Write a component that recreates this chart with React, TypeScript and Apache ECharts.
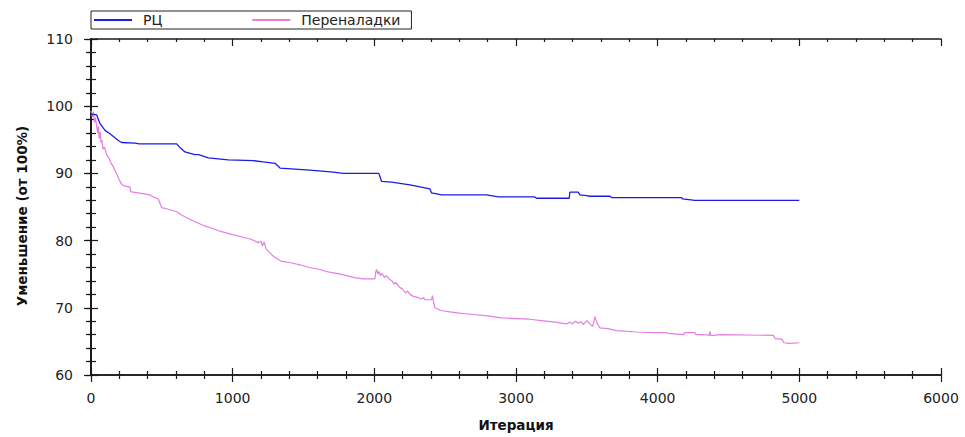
import React, { useEffect, useRef } from "react";
import * as echarts from "echarts";

const seriesNames = ["РЦ", "Переналадки"];
const xTitle = "Итерация";
const yTitle = "Уменьшение (от 100%)";

// РЦ
const rcIter = [0, 5, 40, 64, 99, 134, 193, 216, 310, 340, 605, 630, 663, 734, 760, 828, 969, 1146, 1216, 1300, 1334, 1545, 1710, 1781, 2032, 2051, 2122, 2251, 2392, 2404, 2475, 2792, 2875, 3133, 3145, 3376, 3380, 3439, 3451, 3498, 3521, 3663, 3675, 4169, 4175, 4263, 5000];
const rcValue = [99.0, 98.8, 98.7, 97.4, 96.4, 95.9, 94.9, 94.6, 94.5, 94.4, 94.4, 93.8, 93.2, 92.8, 92.8, 92.3, 92.0, 91.9, 91.7, 91.5, 90.8, 90.5, 90.2, 90.0, 90.0, 88.8, 88.7, 88.3, 87.7, 87.1, 86.8, 86.8, 86.5, 86.5, 86.3, 86.3, 87.2, 87.2, 86.8, 86.7, 86.6, 86.6, 86.4, 86.4, 86.2, 86.0, 86.0];

// Переналадки
const chgIter = [0, 10, 16, 25, 32, 40, 48, 52, 58, 64, 70, 76, 85, 95, 110, 125, 140, 157, 180, 200, 216, 240, 275, 280, 300, 416, 440, 475, 499, 540, 605, 640, 675, 746, 800, 860, 910, 1000, 1075, 1130, 1180, 1200, 1210, 1222, 1235, 1275, 1300, 1346, 1410, 1475, 1540, 1616, 1660, 1710, 1760, 1804, 1860, 1922, 2004, 2010, 2016, 2025, 2034, 2042, 2055, 2070, 2085, 2110, 2125, 2140, 2150, 2181, 2200, 2220, 2235, 2251, 2275, 2300, 2330, 2345, 2360, 2404, 2410, 2420, 2428, 2470, 2534, 2600, 2698, 2800, 2898, 3000, 3098, 3180, 3263, 3357, 3380, 3395, 3420, 3440, 3460, 3475, 3500, 3520, 3540, 3548, 3557, 3565, 3575, 3592, 3650, 3710, 3851, 3960, 4063, 4075, 4181, 4190, 4263, 4270, 4333, 4365, 4369, 4375, 4393, 4439, 4816, 4830, 4880, 4891, 4928, 5000];
const chgValue = [99.3, 98.4, 99.2, 97.6, 98.3, 97.0, 96.0, 97.0, 95.2, 96.2, 94.6, 95.0, 93.6, 93.9, 92.8, 92.4, 91.6, 91.0, 90.0, 89.0, 88.4, 88.1, 88.0, 87.3, 87.2, 86.8, 86.5, 86.2, 84.9, 84.7, 84.3, 83.8, 83.4, 82.7, 82.2, 81.8, 81.4, 80.9, 80.5, 80.2, 79.7, 79.9, 79.2, 79.8, 78.8, 77.9, 77.5, 76.9, 76.7, 76.4, 76.0, 75.7, 75.4, 75.2, 75.0, 74.8, 74.5, 74.3, 74.3, 75.3, 75.7, 75.0, 75.4, 74.8, 75.1, 74.5, 74.8, 74.2, 74.0, 73.5, 73.8, 73.0, 72.8, 72.2, 72.5, 72.0, 71.7, 71.6, 71.3, 71.5, 71.2, 71.2, 71.8, 70.6, 70.0, 69.6, 69.4, 69.2, 69.0, 68.8, 68.5, 68.4, 68.3, 68.1, 67.9, 67.6, 67.9, 67.6, 68.0, 67.7, 67.9, 67.5, 68.1, 67.6, 67.2, 67.8, 68.7, 68.2, 67.6, 67.0, 66.9, 66.6, 66.4, 66.3, 66.3, 66.2, 66.0, 66.3, 66.3, 66.0, 66.0, 65.9, 66.5, 65.9, 65.9, 66.0, 65.9, 65.4, 65.3, 64.8, 64.7, 64.8];

const xMin = 0, xMax = 6000, xInterval = 1000;
const yMin = 60, yMax = 110, yInterval = 10;

const FONT = "'DejaVu Sans', Verdana, sans-serif";
const AXIS_COLOR = "#1a1a1a";
const TEXT_COLOR = "#222";
const RC_COLOR = "#1c1ce8";
const CHG_COLOR = "#e47ee4";
const LINE_ICON = "path://M0,0 H100 V5 H0 Z";

export default function App() {
  const ref = useRef<HTMLDivElement>(null);
  useEffect(() => {
    if (!ref.current) return;
    const chart = echarts.init(ref.current, undefined, { renderer: "svg" });
    const axisLine = { show: true, lineStyle: { color: AXIS_COLOR, width: 1.5 } };
    const xBase = { type: "value", min: xMin, max: xMax, interval: xInterval, splitLine: { show: false }, axisLine };
    const yBase = { type: "value", min: yMin, max: yMax, interval: yInterval, splitLine: { show: false }, axisLine };
    const tick = (inside: boolean, len: number, minorLen: number) => ({
      axisTick: { show: true, inside, length: len, lineStyle: { color: AXIS_COLOR, width: 1.2 } },
      minorTick: { show: true, splitNumber: 5, length: minorLen, lineStyle: { color: AXIS_COLOR, width: 1.2 } },
    });
    const hidden = { axisLabel: { show: false } };
    chart.setOption({
      animation: false,
      textStyle: { fontFamily: FONT },
      grid: { left: 91, right: 24, top: 39, bottom: 60, containLabel: false },
      legend: {
        left: 91,
        top: 11,
        orient: "horizontal",
        padding: [2, 11, 2, 3],
        itemWidth: 38,
        itemHeight: 14,
        itemGap: 90,
        borderColor: "#222",
        borderWidth: 1,
        textStyle: { fontSize: 14, color: TEXT_COLOR, fontFamily: FONT, padding: [0, 0, 0, 6] },
        data: [
          { name: seriesNames[0], icon: LINE_ICON, itemStyle: { color: RC_COLOR } },
          { name: seriesNames[1], icon: LINE_ICON, itemStyle: { color: CHG_COLOR } },
        ],
      },
      xAxis: [
        {
          ...xBase, position: "bottom", ...tick(false, 7, 4),
          axisLabel: { fontSize: 14, color: TEXT_COLOR, margin: 16, fontFamily: FONT, formatter: (v: number) => String(v) },
          name: xTitle, nameLocation: "middle", nameGap: 43,
          nameTextStyle: { fontSize: 13.5, fontWeight: "bold", color: "#111", fontFamily: FONT },
        },
        { ...xBase, position: "bottom", ...tick(true, 7, 4), ...hidden },
        { ...xBase, position: "top", ...tick(true, 7, 3), ...hidden },
      ],
      yAxis: [
        {
          ...yBase, position: "left", ...tick(false, 7, 5),
          axisLabel: { fontSize: 14, color: TEXT_COLOR, margin: 18, fontFamily: FONT, formatter: (v: number) => String(v) },
          name: yTitle, nameLocation: "middle", nameGap: 62,
          nameTextStyle: { fontSize: 13.5, fontWeight: "bold", color: "#111", fontFamily: FONT, padding: [0, 18, 0, 0] },
        },
        { ...yBase, position: "left", ...tick(true, 7, 5), ...hidden },
        { ...yBase, position: "right", ...tick(true, 5, 3), ...hidden },
      ],
      series: [
        {
          name: seriesNames[0], type: "line", xAxisIndex: 0, yAxisIndex: 0,
          symbol: "none", z: 3,
          lineStyle: { color: RC_COLOR, width: 1.3 }, itemStyle: { color: RC_COLOR },
          data: rcIter.map((x, i) => [x, rcValue[i]]),
        },
        {
          name: seriesNames[1], type: "line", xAxisIndex: 0, yAxisIndex: 0,
          symbol: "none", z: 2,
          lineStyle: { color: CHG_COLOR, width: 1.2 }, itemStyle: { color: CHG_COLOR },
          data: chgIter.map((x, i) => [x, chgValue[i]]),
        },
      ],
    });
    return () => chart.dispose();
  }, []);
  return <div ref={ref} style={{ position: "fixed", left: 0, top: 0, width: 965, height: 437, background: "#fff" }} />;
}
